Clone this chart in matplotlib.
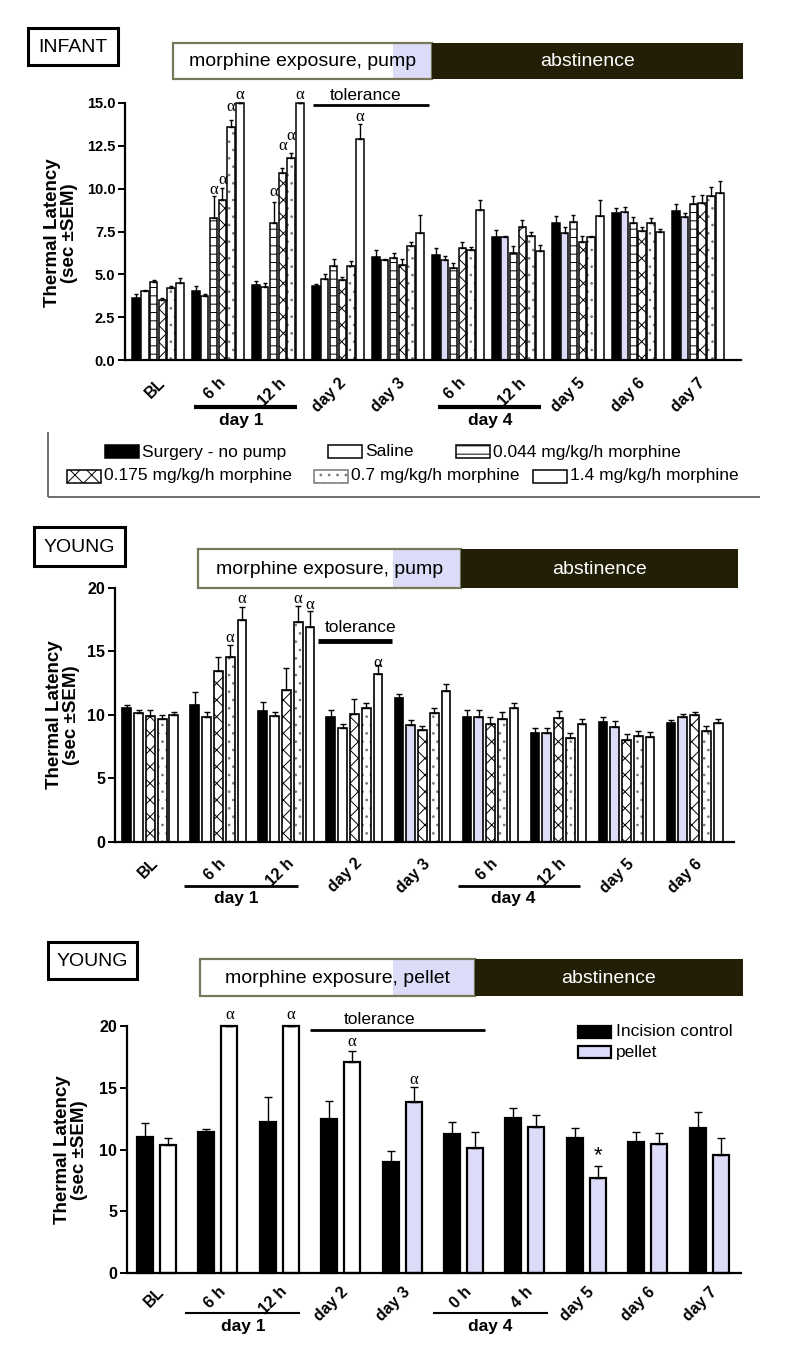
import matplotlib
matplotlib.use("Agg")
import matplotlib.pyplot as plt
from matplotlib.patches import Rectangle
from matplotlib.lines import Line2D
import numpy as np

# ---- panel 1: infant, pump ----
p1_groups = ["BL", "6 h", "12 h", "day 2", "day 3", "6 h", "12 h", "day 5", "day 6", "day 7"]
p1_names = ["Surgery - no pump", "Saline", "0.044 mg/kg/h morphine",
            "0.175 mg/kg/h morphine", "0.7 mg/kg/h morphine", "1.4 mg/kg/h morphine"]
p1_surgery = [3.6, 4.0, 4.38, 4.32, 6.03, 6.13, 7.2, 7.98, 8.6, 8.72]
p1_surgery_err = [0.25, 0.3, 0.25, 0.1, 0.4, 0.4, 0.4, 0.4, 0.25, 0.4]
p1_saline = [4.0, 3.75, 4.24, 4.71, 5.84, 5.82, 7.16, 7.39, 8.62, 8.37]
p1_saline_err = [0.1, 0.1, 0.25, 0.3, 0.05, 0.25, 0.05, 0.4, 0.3, 0.2]
p1_m044 = [4.57, 8.27, 8.0, 5.5, 5.97, 5.35, 6.26, 8.03, 8.01, 9.1]
p1_m044_err = [0.1, 1.3, 1.25, 0.4, 0.25, 0.3, 0.4, 0.45, 0.35, 0.45]
p1_m175 = [3.5, 9.34, 10.93, 4.67, 5.54, 6.52, 7.78, 6.91, 7.53, 9.15]
p1_m175_err = [0.12, 0.7, 0.3, 0.15, 0.35, 0.35, 0.4, 0.3, 0.25, 0.5]
p1_m7 = [4.18, 13.6, 11.77, 5.49, 6.67, 6.42, 7.24, 7.2, 8.0, 9.57]
p1_m7_err = [0.15, 0.4, 0.3, 0.3, 0.2, 0.2, 0.25, 0.05, 0.3, 0.5]
p1_m14 = [4.5, 15.0, 15.0, 12.88, 7.39, 8.76, 6.36, 8.4, 7.49, 9.77]
p1_m14_err = [0.3, 0, 0, 0.9, 1.1, 0.6, 0.35, 0.95, 0.15, 0.7]
p1_alpha = [(1, 2, 9.9), (1, 3, 10.5), (1, 4, 14.75), (1, 5, 15.45),
            (2, 2, 9.8), (2, 3, 12.5), (2, 4, 13.1), (2, 5, 15.45), (3, 5, 14.2)]

# ---- panel 2: young, pump ----
p2_groups = ["BL", "6 h", "12 h", "day 2", "day 3", "6 h", "12 h", "day 5", "day 6"]
p2_surgery = [10.52, 10.81, 10.29, 9.82, 11.36, 9.87, 8.56, 9.42, 9.34]
p2_surgery_err = [0.3, 1.0, 0.75, 0.55, 0.3, 0.55, 0.4, 0.4, 0.3]
p2_saline = [10.13, 9.82, 9.95, 8.95, 9.2, 9.87, 8.56, 9.03, 9.82]
p2_saline_err = [0.3, 0.45, 0.3, 0.35, 0.4, 0.55, 0.4, 0.5, 0.25]
p2_m175 = [9.92, 13.5, 11.97, 10.08, 8.82, 9.27, 9.74, 8.03, 10.0]
p2_m175_err = [0.45, 1.1, 1.7, 1.15, 0.3, 0.6, 0.6, 0.45, 0.25]
p2_m7 = [9.68, 14.6, 17.35, 10.58, 10.18, 9.66, 8.22, 8.35, 8.77]
p2_m7_err = [0.3, 0.9, 1.2, 0.4, 0.4, 0.55, 0.4, 0.4, 0.4]
p2_m14 = [9.97, 17.5, 16.9, 13.23, 11.89, 10.55, 9.29, 8.3, 9.39]
p2_m14_err = [0.3, 1.0, 1.3, 0.7, 0.55, 0.4, 0.4, 0.4, 0.3]
p2_alpha = [(1, 3, 16.1), (1, 4, 19.1), (2, 3, 19.1), (2, 4, 18.7), (3, 4, 14.1)]

# ---- panel 3: young, pellet ----
p3_groups = ["BL", "6 h", "12 h", "day 2", "day 3", "0 h", "4 h", "day 5", "day 6", "day 7"]
p3_names = ["Incision control", "pellet"]
p3_incision = [11.04, 11.44, 12.25, 12.44, 9.01, 11.23, 12.58, 10.9, 10.58, 11.71]
p3_incision_err = [1.13, 0.26, 1.97, 1.49, 0.89, 0.97, 0.75, 0.81, 0.81, 1.35]
p3_pellet = [10.34, 20.0, 20.0, 17.11, 13.87, 10.15, 11.85, 7.72, 10.44, 9.55]
p3_pellet_err = [0.56, 0, 0, 0.89, 1.22, 1.24, 0.94, 0.97, 0.87, 1.41]
p3_alpha = [(1, 1, 20.9), (2, 1, 20.9), (3, 1, 18.7), (4, 1, 15.6)]
p3_star = [(7, 1, 9.5)]

LAV = "#dcdcf8"
DARK = "#221f06"
SERIF = ["Liberation Serif", "DejaVu Serif"]

plt.rcParams["font.family"] = ["Liberation Sans", "DejaVu Sans"]
plt.rcParams["hatch.linewidth"] = 0.7

W, H = 800, 1372
fig = plt.figure(figsize=(W / 100, H / 100), dpi=100)


def px_axes(left, top, right, bottom):
    return fig.add_axes([left / W, 1 - bottom / H, (right - left) / W, (bottom - top) / H])


def fbox(x0, y0, x1, y1, **kw):
    fig.add_artist(Rectangle((x0 / W, 1 - y1 / H), (x1 - x0) / W, (y1 - y0) / H,
                             transform=fig.transFigure, **kw))


def fline(x0, x1, y0, y1=None, lw=2, color="black"):
    y1 = y0 if y1 is None else y1
    fig.add_artist(Line2D([x0 / W, x1 / W], [1 - y0 / H, 1 - y1 / H],
                          transform=fig.transFigure, color=color, lw=lw,
                          solid_capstyle="butt"))


def ftext(x, y, s, **kw):
    fig.text(x / W, 1 - y / H, s, **kw)


def panel_tag(x0, y0, x1, y1, label):
    fbox(x0, y0, x1, y1, fc="white", ec="black", lw=2.2)
    ftext((x0 + x1) / 2, (y0 + y1) / 2 + 1, label, ha="center", va="center", fontsize=14)


def phase_bar(x0, xl, x1, x2, y0, y1, label):
    fbox(x0, y0, xl, y1, fc="white", ec="none")
    fbox(xl, y0, x1, y1, fc=LAV, ec="none")
    fbox(x0, y0, x1, y1, fc="none", ec="#77775a", lw=1.6)
    fbox(x1, y0, x2, y1, fc=DARK, ec="none")
    ftext((x0 + x1) / 2, (y0 + y1) / 2 + 1, label, ha="center", va="center", fontsize=14)
    ftext((x1 + x2) / 2, (y0 + y1) / 2 + 1, "abstinence", ha="center", va="center",
          fontsize=14, color="white")


def style_axes(ax, groups, ymax, yticks, fmt, tick_fs, xpad):
    for s in ["top", "right"]:
        ax.spines[s].set_visible(False)
    ax.spines["left"].set_linewidth(1.6)
    ax.spines["bottom"].set_linewidth(1.6)
    ax.set_ylim(0, ymax)
    ax.set_yticks(yticks)
    ax.set_yticklabels([fmt.format(t) for t in yticks], fontweight="bold", fontsize=tick_fs)
    ax.tick_params(axis="y", length=5, width=1.4, pad=2)
    ax.set_xticks(np.arange(len(groups)))
    ax.set_xticklabels(groups, rotation=45, ha="right", rotation_mode="anchor",
                       fontweight="bold", fontsize=11.5)
    ax.tick_params(axis="x", length=0, pad=xpad)
    ax.patch.set_alpha(0)


def draw_series(ax, vals_list, errs_list, hatches, hatch_colors, fills, width, pitch, lw, capsize):
    n = len(vals_list)
    for j in range(n):
        x = np.arange(len(vals_list[j])) + (j - (n - 1) / 2) * pitch
        if hatches[j]:
            ax.bar(x, vals_list[j], width, color=fills[j], edgecolor=hatch_colors[j],
                   hatch=hatches[j], linewidth=0, clip_on=False, zorder=2)
            ax.bar(x, vals_list[j], width, fill=False, edgecolor="black",
                   linewidth=lw, clip_on=False, zorder=2)
        else:
            ax.bar(x, vals_list[j], width, color=fills[j], edgecolor="black",
                   linewidth=lw, clip_on=False, zorder=2)
        errs = np.asarray(errs_list[j], dtype=float)
        ax.errorbar(x, vals_list[j], yerr=[np.zeros_like(errs), errs], fmt="none",
                    ecolor="black", elinewidth=1.0, capsize=capsize, capthick=1.0,
                    clip_on=False, zorder=3)


def marks(ax, items, n, pitch, sym, fs, family):
    for g, j, y in items:
        ax.text(g + (j - (n - 1) / 2) * pitch, y, sym, ha="center", va="center",
                fontsize=fs, family=family, clip_on=False)


def fills_for(n_groups, lav_from):
    return ["white" if i < lav_from else LAV for i in range(n_groups)]


def ylabel(x, y):
    ftext(x, y, "Thermal Latency\n(sec \u00b1SEM)", rotation=90, ha="center", va="center",
          fontsize=13.5, fontweight="bold", linespacing=1.0, multialignment="center")


# ================= panel 1 =================
panel_tag(28, 28, 118, 65, "INFANT")
phase_bar(173, 393, 432, 743, 43, 79, "morphine exposure, pump")

ax1 = px_axes(125, 103, 741, 360)
draw_series(ax1,
            [p1_surgery, p1_saline, p1_m044, p1_m175, p1_m7, p1_m14],
            [p1_surgery_err, p1_saline_err, p1_m044_err, p1_m175_err, p1_m7_err, p1_m14_err],
            [None, None, "--", "xx", "..", None],
            [None, None, "black", "black", "#777777", None],
            ["black", fills_for(10, 5), "white", "white", "white", "white"],
            width=0.125, pitch=0.147, lw=1.1, capsize=1.6)
ax1.set_xlim(-0.55, 9.72)
style_axes(ax1, p1_groups, 15, [0, 2.5, 5, 7.5, 10, 12.5, 15], "{:.1f}", 10.5, 11)
marks(ax1, p1_alpha, 6, 0.147, "\u03b1", 12, SERIF)
ylabel(61, 233)

fline(313, 429, 105, lw=2)
ftext(366, 95, "tolerance", ha="center", va="center", fontsize=12.5)
fline(194, 297, 407, lw=3)
ftext(241, 420, "day 1", ha="center", va="center", fontsize=12.5, fontweight="bold")
fline(438, 541, 407, lw=3)
ftext(490, 420, "day 4", ha="center", va="center", fontsize=12.5, fontweight="bold")

# legend frame (left and bottom edges only) and two rows of entries
fline(48, 48, 432, 497, lw=1.2, color="#555555")
fline(48, 760, 497, lw=1.2, color="#555555")
leg_rows = [(105, 452, 0), (328, 452, 1), (456, 452, 2),
            (67, 476, 3), (314, 476, 4), (533, 476, 5)]
leg_hatch = [None, None, "--", "xx", "..", None]
leg_fill = ["black", "white", "white", "white", "white", "white"]
for (x0, yc, k) in leg_rows:
    fbox(x0, yc - 6.5, x0 + 34, yc + 6.5, fc=leg_fill[k],
         ec="#777777" if k == 4 else "black", lw=1.1, hatch=leg_hatch[k])
    ftext(x0 + 37, yc, p1_names[k], ha="left", va="center", fontsize=12.5)

# ================= panel 2 =================
panel_tag(34, 527, 125, 566, "YOUNG")
phase_bar(198, 393, 461, 738, 549, 588, "morphine exposure, pump")

ax2 = px_axes(115, 588, 734, 842)
draw_series(ax2,
            [p2_surgery, p2_saline, p2_m175, p2_m7, p2_m14],
            [p2_surgery_err, p2_saline_err, p2_m175_err, p2_m7_err, p2_m14_err],
            [None, None, "xx", "..", None],
            [None, None, "black", "#777777", None],
            ["black", fills_for(9, 4), "white", "white", "white"],
            width=0.13, pitch=0.173, lw=1.2, capsize=2)
ax2.set_xlim(-0.52, 8.58)
style_axes(ax2, p2_groups, 20, [0, 5, 10, 15, 20], "{:.0f}", 11.5, 10)
marks(ax2, p2_alpha, 5, 0.173, "\u03b1", 12, SERIF)
ylabel(63, 715)

fline(318, 392, 641, lw=3.5)
ftext(361, 628, "tolerance", ha="center", va="center", fontsize=12.5)
fline(184, 298, 886, lw=2)
ftext(236, 898, "day 1", ha="center", va="center", fontsize=12.5, fontweight="bold")
fline(458, 580, 886, lw=2)
ftext(513, 898, "day 4", ha="center", va="center", fontsize=12.5, fontweight="bold")

# ================= panel 3 =================
panel_tag(48, 942, 137, 979, "YOUNG")
phase_bar(200, 393, 475, 743, 959, 996, "morphine exposure, pellet")

ax3 = px_axes(127, 1026, 741, 1273)
draw_series(ax3,
            [p3_incision, p3_pellet],
            [p3_incision_err, p3_pellet_err],
            [None, None],
            [None, None],
            ["black", fills_for(10, 4)],
            width=0.26, pitch=0.375, lw=1.6, capsize=3)
ax3.set_xlim(-0.48, 9.52)
style_axes(ax3, p3_groups, 20, [0, 5, 10, 15, 20], "{:.0f}", 11.5, 8)
marks(ax3, p3_alpha, 2, 0.375, "\u03b1", 12, SERIF)
marks(ax3, p3_star, 2, 0.375, "*", 16, ["Liberation Sans", "DejaVu Sans"])
ylabel(71, 1150)

fline(310, 485, 1030, lw=2)
ftext(380, 1019, "tolerance", ha="center", va="center", fontsize=12.5)
fline(185, 300, 1313, lw=1.5)
ftext(243, 1327, "day 1", ha="center", va="center", fontsize=12.5, fontweight="bold")
fline(433, 548, 1313, lw=1.5)
ftext(490, 1327, "day 4", ha="center", va="center", fontsize=12.5, fontweight="bold")

for (yc, k, fc) in [(1032, 0, "black"), (1052, 1, LAV)]:
    fbox(578, yc - 6, 611, yc + 6, fc=fc, ec="black", lw=1.6)
    ftext(616, yc, p3_names[k], ha="left", va="center", fontsize=12.5)

fig.savefig("out.png", dpi=100)
